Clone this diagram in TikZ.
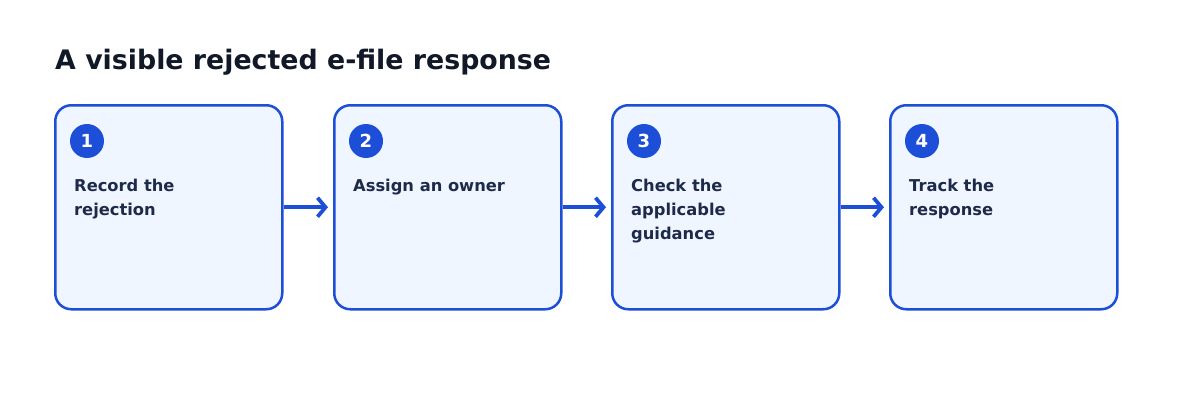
\documentclass[tikz,border=0pt]{standalone}
\usepackage{fontspec}
\setmainfont{DejaVu Sans}
\usetikzlibrary{arrows.meta}
\definecolor{edge}{HTML}{1D4ED8}
\definecolor{boxfill}{HTML}{EFF6FF}
\definecolor{badge}{HTML}{1D4ED8}
\definecolor{titlec}{HTML}{111827}
\definecolor{stepc}{HTML}{1E2A4A}
\newcommand{\steplines}[1]{\vtop{\baselineskip=24pt\lineskiplimit=-20pt #1}}
\tikzset{
  stepbox/.style={draw=edge, line width=2.5pt, fill=boxfill, rounded corners=16pt,
    minimum width=227pt, minimum height=204pt, inner sep=0pt, anchor=north west},
  badgec/.style={circle, fill=badge, minimum size=34pt, inner sep=0pt,
    text=white, font=\bfseries\fontsize{18}{20}\selectfont},
  steptext/.style={anchor=base west, text=stepc,
    font=\bfseries\fontsize{16.3}{24}\selectfont, inner sep=0pt},
  flow/.style={draw=edge, line width=3.8pt, shorten >=5pt,
    -{Straight Barb[length=8pt,width=19pt,line width=3.8pt]}},
}
\begin{document}
\begin{tikzpicture}[x=1pt,y=-1pt]
\useasboundingbox (0,0) rectangle (1200,420);
\node[anchor=base west, inner sep=0pt, text=titlec, font=\bfseries\fontsize{26.8}{30}\selectfont] (title) at (55,70) {A visible rejected e-file response};
\foreach \i/\x/\t in {1/54/{\hbox{Record the}\hbox{rejection}}, 2/333/{\hbox{Assign an owner}}, 3/611/{\hbox{Check the}\hbox{applicable}\hbox{guidance}}, 4/889/{\hbox{Track the}\hbox{response}}} {
  \node[stepbox] (b\i) at (\x,104) {};
  \node[badgec] (n\i) at (\x+33,141) {\i};
  \node[steptext] (t\i) at (\x+20,191) {\steplines{\t}};
}
\draw[flow] (b1.east) -- (b2.west);
\draw[flow] (b2.east) -- (b3.west);
\draw[flow] (b3.east) -- (b4.west);
\end{tikzpicture}
\end{document}
